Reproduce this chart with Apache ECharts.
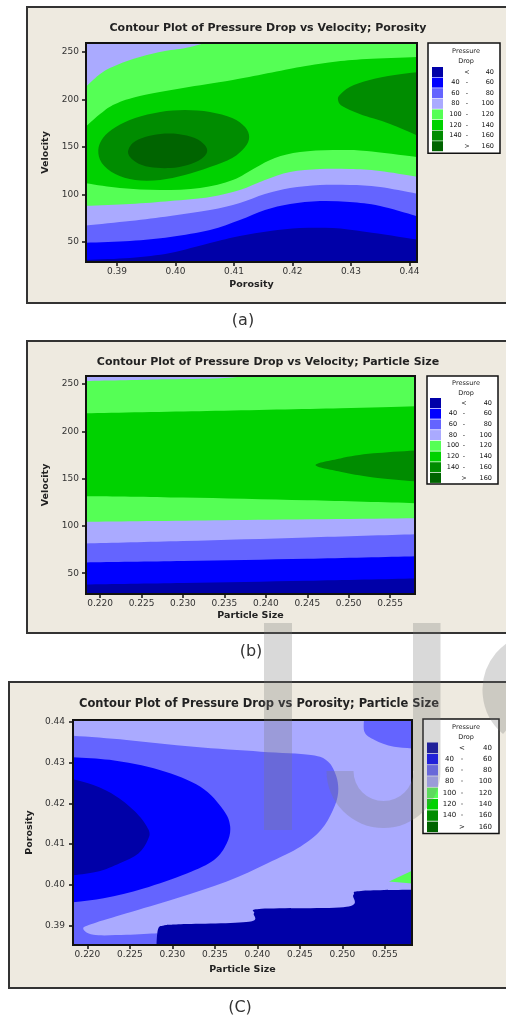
<!DOCTYPE html>
<html lang="en">
<head>
<meta charset="utf-8">
<title>Contour plots of pressure drop</title>
<script src="https://cdn.jsdelivr.net/npm/echarts@6.0.0/dist/echarts.min.js"></script>
<style>
  html, body { margin: 0; padding: 0; background: #fff; }
  #chart { width: 506px; height: 1021px; }
</style>
</head>
<body>
<div id="chart"></div>
<script>
const FONT = 'DejaVu Sans';

// pressure drop bands (Minitab contour palette)
const levelNames = ['< 40', '40 - 60', '60 - 80', '80 - 100', '100 - 120', '120 - 140', '140 - 160', '> 160'];
const levelLow = ['', '40', '60', '80', '100', '120', '140', ''];
const levelSign = ['<', '-', '-', '-', '-', '-', '-', '>'];
const levelHigh = ['40', '60', '80', '100', '120', '140', '160', '160'];
const levelColors = ['#0000a8', '#0000ff', '#6464ff', '#aaaaff', '#55ff55', '#00d200', '#008c00', '#006400'];

// ---- (a) velocity vs porosity ----
const aPorosityRange = [0.3847, 0.4413];
const aVelocityRange = [29, 259.5];
const aPorosityTicks = [0.39, 0.40, 0.41, 0.42, 0.43, 0.44];
const aVelocityTicks = [50, 100, 150, 200, 250];
// contour lines [porosity, velocity], ends just past the frame
const aLine40 = [[0.3835, 31.1], [0.3922, 33.2], [0.3991, 38.4], [0.4059, 48.9], [0.4110, 56.3], [0.4162, 61.6], [0.4213, 64.7], [0.4269, 64.7], [0.4327, 60.5], [0.4425, 51.5]];
const aLine60 = [[0.3835, 49.0], [0.3922, 51.1], [0.3991, 55.3], [0.4059, 62.6], [0.4110, 73.2], [0.4153, 83.7], [0.4196, 90.0], [0.4247, 93.2], [0.4298, 92.1], [0.4350, 87.9], [0.4425, 75.0]];
const aLine80 = [[0.3835, 66.7], [0.3922, 72.1], [0.3991, 77.4], [0.4059, 83.7], [0.4110, 91.1], [0.4153, 100.5], [0.4196, 106.8], [0.4247, 110.0], [0.4298, 110.0], [0.4350, 107.9], [0.4425, 99.5]];
const aLine100Low = [[0.3835, 87.8], [0.3922, 90.0], [0.3991, 93.2], [0.4059, 97.4], [0.4110, 104.7], [0.4153, 115.3], [0.4196, 123.7], [0.4247, 126.8], [0.4298, 126.8], [0.4350, 124.7], [0.4425, 117.5]];
const aLine100High = [[0.4085, 266], [0.4025, 255.3], [0.3982, 251.0], [0.3939, 244.7], [0.3900, 236.4], [0.3871, 226.8], [0.3835, 206]];
const aLine120Low = [[0.3835, 113], [0.3905, 106.8], [0.3974, 104.7], [0.4042, 106.8], [0.4098, 115.3], [0.4136, 127.9], [0.4170, 138.4], [0.4213, 144.7], [0.4269, 146.8], [0.4327, 145.8], [0.4425, 138.5]];
const aLine120High = [[0.4425, 245.0], [0.4327, 242.6], [0.4269, 239.5], [0.4213, 234.2], [0.4098, 220.5], [0.4013, 212.1], [0.3939, 203.7], [0.3897, 195.3], [0.3871, 184.7], [0.3835, 165]];
const aLoop140 = [[0.3868, 146.8], [0.3876, 159.5], [0.3898, 171.0], [0.3931, 180.5], [0.3974, 186.8], [0.4016, 188.9], [0.4059, 186.8], [0.4097, 180.5], [0.4119, 171.0], [0.4126, 160.5], [0.4119, 150.0], [0.4097, 138.4], [0.4059, 128.9], [0.4016, 120.5], [0.3974, 115.3], [0.3931, 115.3], [0.3897, 121.6], [0.3874, 133.2]];
const aLine140Right = [[0.4425, 229.5], [0.4375, 225.8], [0.4332, 220.5], [0.4298, 213.2], [0.4281, 204.7], [0.4278, 199.5], [0.4285, 193.2], [0.4315, 184.7], [0.4367, 174.2], [0.4425, 159.0]];
const aLoop160 = [[0.3919, 143.7], [0.3927, 154.2], [0.3948, 160.5], [0.3974, 163.7], [0.4004, 163.7], [0.4033, 159.5], [0.4050, 152.1], [0.4054, 144.7], [0.4044, 137.4], [0.4021, 131.1], [0.3991, 127.9], [0.3956, 128.9], [0.3932, 134.2]];

// ---- (b) velocity vs particle size ----
const bSizeRange = [0.2183, 0.2580];
const bVelocityRange = [28, 258.5];
const bSizeTicks = [0.220, 0.225, 0.230, 0.235, 0.240, 0.245, 0.250, 0.255];
const bVelocityTicks = [50, 100, 150, 200, 250];
const bLine40 = [[0.2170, 37.9], [0.2300, 39.6], [0.2450, 42.0], [0.2595, 44.7]];
const bLine60 = [[0.2170, 61.2], [0.2300, 62.8], [0.2450, 65.2], [0.2595, 68.2]];
const bLine80 = [[0.2170, 81.1], [0.2300, 84.0], [0.2450, 87.8], [0.2595, 91.6]];
const bLine100Low = [[0.2170, 104.2], [0.2350, 106.0], [0.2595, 108.2]];
const bLine100High = [[0.2435, 266], [0.2360, 257.0], [0.2280, 255.0], [0.2170, 252.9]];
const bLine120Low = [[0.2170, 131.6], [0.2300, 130.0], [0.2450, 127.0], [0.2595, 123.6]];
const bLine120High = [[0.2595, 226.9], [0.2490, 224.3], [0.2329, 221.4], [0.2170, 218.8]];
const bLine140 = [[0.2595, 180.6], [0.2530, 176.7], [0.2490, 171.4], [0.2460, 164.3], [0.2490, 157.2], [0.2530, 151.3], [0.2595, 146.2]];

// ---- (c) porosity vs particle size ----
const cSizeRange = [0.2183, 0.2582];
const cPorosityRange = [0.3852, 0.4405];
const cSizeTicks = [0.220, 0.225, 0.230, 0.235, 0.240, 0.245, 0.250, 0.255];
const cPorosityTicks = [0.39, 0.40, 0.41, 0.42, 0.43, 0.44];
const cLine80 = [[0.2170, 0.4368], [0.2246, 0.4356], [0.2325, 0.4339], [0.2404, 0.4327], [0.2463, 0.4319], [0.2483, 0.4303], [0.2493, 0.4266], [0.2495, 0.4225], [0.2489, 0.4184], [0.2475, 0.4135], [0.2451, 0.4094], [0.2412, 0.4053], [0.2364, 0.4008], [0.2305, 0.3967], [0.2246, 0.3930], [0.2207, 0.3905], [0.2195, 0.3893], [0.2207, 0.3877], [0.2246, 0.3877], [0.2282, 0.3881]];
const cLine80Corner = [[0.2526, 0.4418], [0.2526, 0.4376], [0.2538, 0.4356], [0.2561, 0.4339], [0.2595, 0.4334]];
const cLine60 = [[0.2170, 0.4315], [0.2226, 0.4307], [0.2285, 0.4282], [0.2333, 0.4241], [0.2360, 0.4184], [0.2368, 0.4143], [0.2364, 0.4102], [0.2349, 0.4061], [0.2317, 0.4028], [0.2266, 0.3991], [0.2219, 0.3967], [0.2170, 0.3954]];
const cLine40Core = [[0.2170, 0.4266], [0.2207, 0.4245], [0.2234, 0.4217], [0.2258, 0.4176], [0.2272, 0.4135], [0.2271, 0.4110], [0.2260, 0.4077], [0.2238, 0.4053], [0.2211, 0.4032], [0.2170, 0.4020]];
const cLine40Steps = [[0.2281, 0.3840], [0.2283, 0.3890], [0.2290, 0.3900], [0.2310, 0.3903], [0.2390, 0.3909], [0.2396, 0.3930], [0.2405, 0.3941], [0.2505, 0.3946], [0.2513, 0.3975], [0.2522, 0.3985], [0.2595, 0.3988]];
const cPatch100 = [[0.2555, 0.4008], [0.2595, 0.4047], [0.2595, 0.4001]];

// filled regions in paint order: runs are contour lines (smoothed) or single corner points
const aRegions = [
  { level: 0, runs: [[0.3835, 22], [0.4425, 22], [0.4425, 266], [0.3835, 266]] },
  { level: 1, runs: [aLine40, [0.4425, 266], [0.3835, 266]] },
  { level: 2, runs: [aLine60, [0.4425, 266], [0.3835, 266]] },
  { level: 3, runs: [aLine80, [0.4425, 266], [0.3835, 266]] },
  { level: 4, runs: [aLine100Low, [0.4425, 266], aLine100High] },
  { level: 5, runs: [aLine120Low, aLine120High] },
  { level: 6, loop: aLoop140 },
  { level: 6, runs: [aLine140Right] },
  { level: 7, loop: aLoop160 }
];
const bRegions = [
  { level: 0, runs: [[0.2170, 20], [0.2595, 20], [0.2595, 266], [0.2170, 266]] },
  { level: 1, runs: [bLine40, [0.2595, 266], [0.2170, 266]] },
  { level: 2, runs: [bLine60, [0.2595, 266], [0.2170, 266]] },
  { level: 3, runs: [bLine80, [0.2595, 266], [0.2170, 266]] },
  { level: 4, runs: [bLine100Low, [0.2595, 266], bLine100High] },
  { level: 5, runs: [bLine120Low, bLine120High] },
  { level: 6, runs: [bLine140] }
];
const cRegions = [
  { level: 3, runs: [[0.2170, 0.3840], [0.2595, 0.3840], [0.2595, 0.4418], [0.2170, 0.4418]] },
  { level: 2, runs: [cLine80, [0.2290, 0.3840], [0.2170, 0.3840]] },
  { level: 2, runs: [cLine80Corner, [0.2595, 0.4418]] },
  { level: 1, runs: [cLine60] },
  { level: 0, runs: [cLine40Core] },
  { level: 0, runs: [cLine40Steps, [0.2595, 0.3840]] },
  { level: 4, runs: cPatch100 }
];

const panels = [
  { grid: { left: 86, top: 43, width: 331, height: 219 }, xRange: aPorosityRange, yRange: aVelocityRange,
    xTicks: aPorosityTicks, yTicks: aVelocityTicks, xDigits: 2, yDigits: 0,
    xName: 'Porosity', yName: 'Velocity', xGap: 18, yGap: 32, yMargin: 7, regions: aRegions },
  { grid: { left: 86, top: 376, width: 329, height: 218 }, xRange: bSizeRange, yRange: bVelocityRange,
    xTicks: bSizeTicks, yTicks: bVelocityTicks, xDigits: 3, yDigits: 0,
    xName: 'Particle Size', yName: 'Velocity', xGap: 17, yGap: 33, yMargin: 7, regions: bRegions },
  { grid: { left: 73, top: 720, width: 339, height: 225 }, xRange: cSizeRange, yRange: cPorosityRange,
    xTicks: cSizeTicks, yTicks: cPorosityTicks, xDigits: 3, yDigits: 2,
    xName: 'Particle Size', yName: 'Porosity', xGap: 20, yGap: 36, yMargin: 8, regions: cRegions }
];

// Catmull-Rom through the read points, straight joins between runs
function regionPath(region, api) {
  const seg = (p0, p1, p2, p3) => 'C' + [
    p1[0] + (p2[0] - p0[0]) / 6, p1[1] + (p2[1] - p0[1]) / 6,
    p2[0] - (p3[0] - p1[0]) / 6, p2[1] - (p3[1] - p1[1]) / 6,
    p2[0], p2[1]].join(' ');
  if (region.loop) {
    const pts = region.loop.map(p => api.coord(p));
    const n = pts.length;
    let d = 'M' + pts[0].join(' ');
    for (let i = 0; i < n; i++) {
      d += seg(pts[(i - 1 + n) % n], pts[i], pts[(i + 1) % n], pts[(i + 2) % n]);
    }
    return d + 'Z';
  }
  let d = '';
  region.runs.forEach((run, k) => {
    const pts = Array.isArray(run[0]) ? run.map(p => api.coord(p)) : [api.coord(run)];
    d += (k ? 'L' : 'M') + pts[0].join(' ');
    for (let i = 0; i + 1 < pts.length; i++) {
      d += seg(pts[Math.max(i - 1, 0)], pts[i], pts[i + 1], pts[Math.min(i + 2, pts.length - 1)]);
    }
  });
  return d + 'Z';
}

const series = [];
let paintOrder = 0;
panels.forEach((p, pi) => {
  p.regions.forEach(region => {
    const color = levelColors[region.level];
    const z2 = paintOrder++;
    series.push({
      type: 'custom',
      name: levelNames[region.level],
      coordinateSystem: 'cartesian2d',
      xAxisIndex: pi,
      yAxisIndex: pi,
      clip: true,
      silent: true,
      itemStyle: { color: color },
      data: [[p.xRange[0], p.yRange[0]]],
      renderItem: (params, api) => ({
        type: 'path',
        z2: z2,
        shape: { pathData: regionPath(region, api) },
        style: { fill: color, stroke: null }
      })
    });
  });
});

const legendSpots = [
  { left: 428, top: 43, padding: [24, 6, 2, 4], iw: 11, ih: 10, gap: 0.6, fs: 6.5, w: [15, 8, 23] },
  { left: 427, top: 376, padding: [22, 6, 1, 3], iw: 11, ih: 10, gap: 0.7, fs: 6.5, w: [14, 8, 24] },
  { left: 423, top: 719, padding: [23.5, 7, 1.5, 4], iw: 11, ih: 10.5, gap: 0.8, fs: 7, w: [13, 12, 24] }
];

const boxes = [
  { x: 27, y: 7, width: 500, height: 296 },
  { x: 27, y: 341, width: 500, height: 292 },
  { x: 9, y: 682, width: 520, height: 306 }
];
const titles = [
  { text: 'Contour Plot of Pressure Drop vs Velocity; Porosity', x: 268, y: 28, size: 11 },
  { text: 'Contour Plot of Pressure Drop vs Velocity; Particle Size', x: 268, y: 362, size: 11 },
  { text: 'Contour Plot of Pressure Drop vs Porosity; Particle Size', x: 259, y: 704, size: 11.5 }
];
const legendHeads = [[466, 51, 61], [466, 383, 393], [466, 727, 737]];
const captions = [['(a)', 243, 321], ['(b)', 251, 652], ['(C)', 240, 1008]];

function textEl(text, x, y, font, fill) {
  return {
    type: 'text', x: x, y: y, silent: true, z: 10,
    style: { text: text, font: font, fill: fill, textAlign: 'center', textVerticalAlign: 'middle', align: 'center', verticalAlign: 'middle' }
  };
}

// faint "IJS" watermark laid over the figure
const watermark = 'rgba(120,120,120,0.28)';
const graphic = [].concat(
  boxes.map(b => ({ type: 'rect', z: -10, silent: true, shape: b, style: { fill: '#eeeae0', stroke: '#333', lineWidth: 2 } })),
  titles.map(t => textEl(t.text, t.x, t.y, 'bold ' + t.size + 'px "' + FONT + '"', '#222')),
  legendHeads.flatMap(h => [
    textEl('Pressure', h[0], h[1], '6.5px "' + FONT + '"', '#222'),
    textEl('Drop', h[0], h[2], '6.5px "' + FONT + '"', '#222')
  ]),
  captions.map(c => textEl(c[0], c[1], c[2], '16px "' + FONT + '"', '#333')),
  [
    { type: 'rect', z: 100, silent: true, shape: { x: 264, y: 623, width: 28, height: 207 }, style: { fill: watermark } },
    { type: 'rect', z: 100, silent: true, shape: { x: 413, y: 623, width: 27.5, height: 148 }, style: { fill: watermark } },
    { type: 'sector', z: 100, silent: true,
      shape: { cx: 383.5, cy: 771, r0: 30, r: 57, startAngle: 0, endAngle: Math.PI, clockwise: true },
      style: { fill: watermark } },
    { type: 'arc', z: 100, silent: true,
      shape: { cx: 540, cy: 690, r: 44, startAngle: 130 * Math.PI / 180, endAngle: 235 * Math.PI / 180, clockwise: true },
      style: { fill: null, stroke: watermark, lineWidth: 27 } }
  ]
);

const axisNameStyle = { fontFamily: FONT, fontSize: 9.5, fontWeight: 'bold', color: '#222' };
const tickLabelStyle = { fontFamily: FONT, fontSize: 9, color: '#333' };

const chart = echarts.init(document.getElementById('chart'));
chart.setOption({
  animation: false,
  backgroundColor: '#fff',
  grid: panels.map(p => Object.assign({
    show: true, z: 20, backgroundColor: 'transparent', borderColor: '#111', borderWidth: 2
  }, p.grid)),
  xAxis: panels.map((p, i) => ({
    type: 'value', gridIndex: i, min: p.xRange[0], max: p.xRange[1],
    name: p.xName, nameLocation: 'middle', nameGap: p.xGap, nameTextStyle: axisNameStyle,
    axisLine: { show: false, onZero: false },
    axisTick: { show: true, customValues: p.xTicks, length: 4, lineStyle: { color: '#111', width: 1.5 } },
    axisLabel: Object.assign({ customValues: p.xTicks, formatter: v => v.toFixed(p.xDigits), margin: 5.5 }, tickLabelStyle),
    splitLine: { show: false }
  })),
  yAxis: panels.map((p, i) => ({
    type: 'value', gridIndex: i, min: p.yRange[0], max: p.yRange[1],
    name: p.yName, nameLocation: 'middle', nameGap: p.yGap, nameTextStyle: axisNameStyle,
    axisLine: { show: false, onZero: false },
    axisTick: { show: true, customValues: p.yTicks, length: 4, lineStyle: { color: '#111', width: 1.5 } },
    axisLabel: Object.assign({ customValues: p.yTicks, formatter: v => v.toFixed(p.yDigits), margin: p.yMargin }, tickLabelStyle),
    splitLine: { show: false }
  })),
  legend: legendSpots.map(s => ({
    orient: 'vertical', left: s.left, top: s.top, padding: s.padding,
    data: levelNames, icon: 'rect', itemWidth: s.iw, itemHeight: s.ih, itemGap: s.gap,
    selectedMode: false, backgroundColor: '#fff', borderColor: '#111', borderWidth: 1.5,
    formatter: name => {
      const i = levelNames.indexOf(name);
      return '{lo|' + (levelLow[i] || ' ') + '}{mid|' + levelSign[i] + '}{hi|' + levelHigh[i] + '}';
    },
    textStyle: {
      fontFamily: FONT, fontSize: s.fs, color: '#111',
      rich: {
        lo: { width: s.w[0], align: 'right', fontFamily: FONT, fontSize: s.fs, color: '#111' },
        mid: { width: s.w[1], align: 'center', fontFamily: FONT, fontSize: s.fs, color: '#111' },
        hi: { width: s.w[2], align: 'right', fontFamily: FONT, fontSize: s.fs, color: '#111' }
      }
    }
  })),
  graphic: graphic,
  series: series
});
</script>
</body>
</html>
